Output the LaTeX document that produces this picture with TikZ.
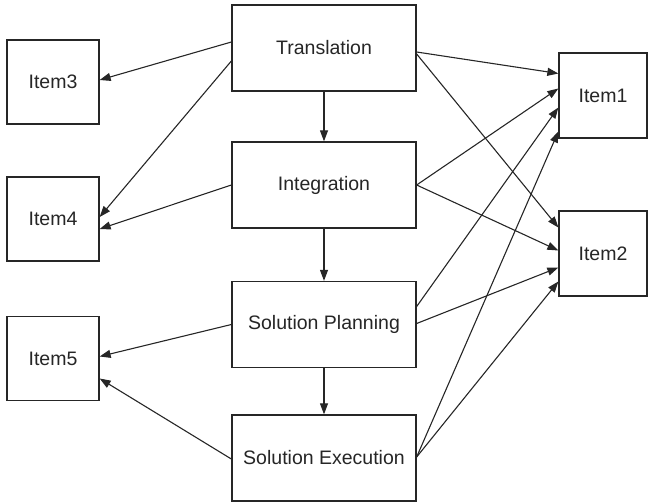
\documentclass[tikz,border=0pt]{standalone}
\usepackage{fontspec}
\setmainfont{Liberation Sans}
\usetikzlibrary{arrows.meta,calc}
\definecolor{ink}{gray}{0.15}
\begin{document}
\begin{tikzpicture}[x=1pt,y=-1pt,
  box/.style={draw=ink,line width=1.3pt,fill=white,inner sep=0pt,
    font=\fontsize{19.5}{23}\selectfont,text=ink},
  stage/.style={box,minimum width=184pt,minimum height=86pt},
  item/.style={box,minimum width=92pt,minimum height=84pt},
  ritem/.style={box,minimum width=88pt,minimum height=85pt},
  link/.style={draw=ink,line width=1.1pt,-{Triangle[length=11pt,width=8pt]}}]
\useasboundingbox (0,0) rectangle (650,503);

% process stages in the middle column
\node[stage] (trans) at (324,48) {Translation};
\node[stage] (integ) at (324,185) {Integration};
\node[stage] (plan)  at (324,324.5) {Solution Planning};
\node[stage] (exec)  at (324,458) {Solution Execution};

% items on the left
\node[item] (i3) at (53,82) {Item3};
\node[item] (i4) at (53,219) {Item4};
\node[item] (i5) at (53,358.5) {Item5};

% items on the right
\node[ritem] (i1) at (603,95.5) {Item1};
\node[ritem] (i2) at (603,253.5) {Item2};

% stage sequence
\draw[link] (trans.south) -- (integ.north);
\draw[link] (integ.south) -- (plan.north);
\draw[link] (plan.south) -- (exec.north);

% links to the left items
\draw[link] ($(trans.west)+(0,-6)$) -- ($(i3.east)+(0,-2)$);
\draw[link] ($(trans.west)+(0,13)$) -- ($(i4.east)+(0,-2)$);
\draw[link] (integ.west) -- ($(i4.east)+(0,10)$);
\draw[link] (plan.west) -- ($(i5.east)+(0,-2)$);
\draw[link] ($(exec.west)+(0,1)$) -- ($(i5.east)+(0,20)$);

% links to the right items
\draw[link] ($(trans.east)+(0,4)$) -- ($(i1.west)+(0,-22)$);
\draw[link] ($(trans.east)+(0,6)$) -- ($(i2.west)+(0,-26)$);
\draw[link] (integ.east) -- ($(i1.west)+(0,-7)$);
\draw[link] (integ.east) -- ($(i2.west)+(0,-3)$);
\draw[link] ($(plan.east)+(0,-18)$) -- ($(i1.west)+(0,12)$);
\draw[link] ($(plan.east)+(0,-1)$) -- ($(i2.west)+(0,14)$);
\draw[link] ($(exec.east)+(0,-1)$) -- ($(i1.west)+(0,36)$);
\draw[link] ($(exec.east)+(0,-1)$) -- ($(i2.west)+(0,28)$);
\end{tikzpicture}
\end{document}
